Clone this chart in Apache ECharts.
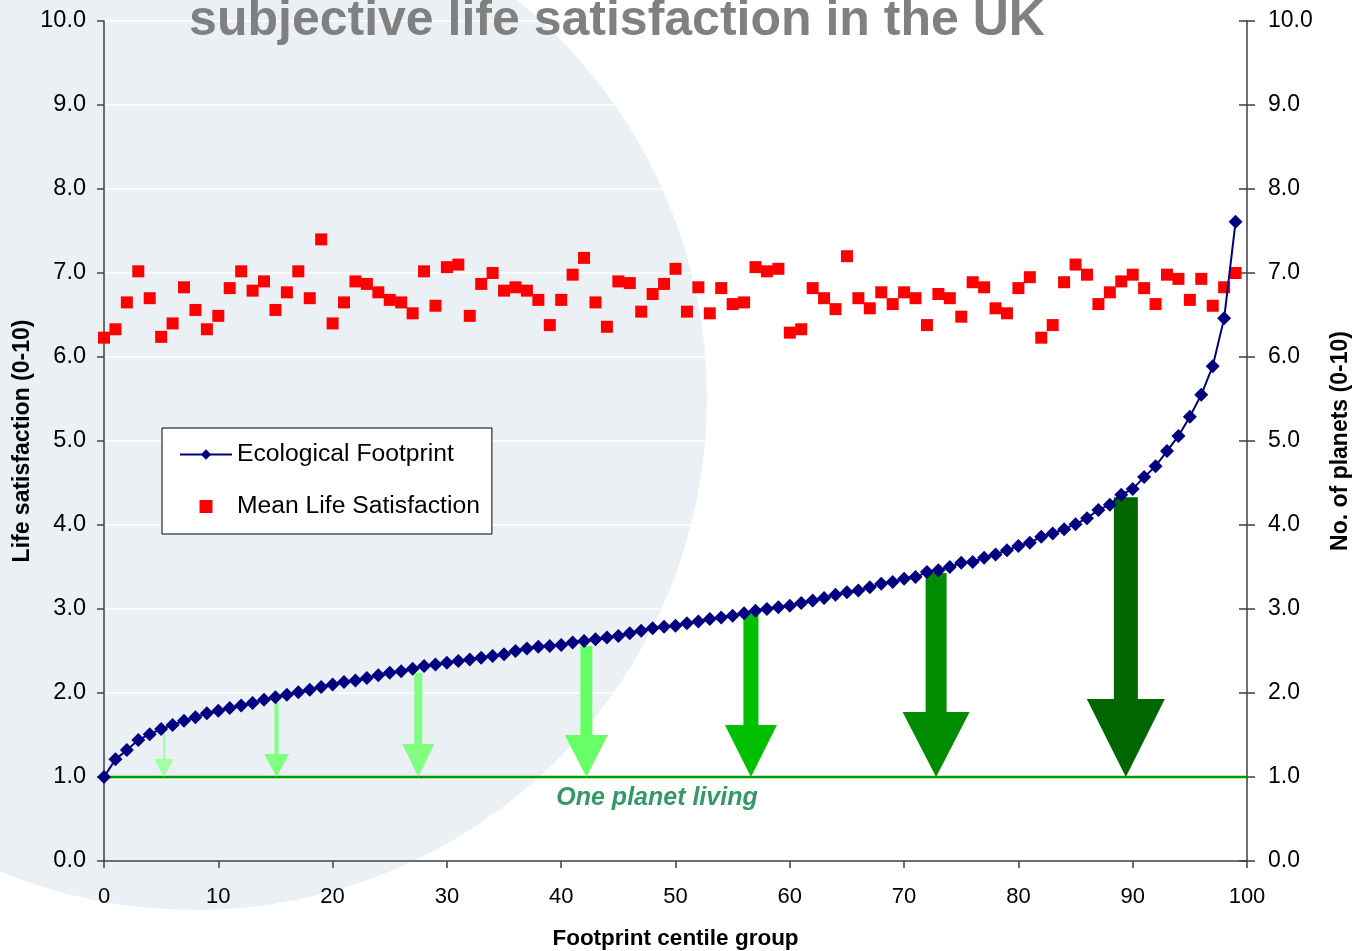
<!DOCTYPE html>
<html>
<head>
<meta charset="utf-8">
<title>Ecological footprint and subjective life satisfaction in the UK</title>
<script src="https://cdn.jsdelivr.net/npm/echarts@6/dist/echarts.min.js"></script>
<style>
    html, body { margin: 0; padding: 0; background: #ffffff; }
    #footprint_chart { width: 1356px; height: 951px; }
</style>
</head>
<body>
<div id="footprint_chart"></div>
<script>

// Chart data
// ------------------------------

var centiles = [
    0, 1, 2, 3, 4, 5, 6, 7, 8, 9, 10, 11, 12, 13, 14, 15, 16, 17, 18, 19,
    20, 21, 22, 23, 24, 25, 26, 27, 28, 29, 30, 31, 32, 33, 34, 35, 36, 37, 38, 39,
    40, 41, 42, 43, 44, 45, 46, 47, 48, 49, 50, 51, 52, 53, 54, 55, 56, 57, 58, 59,
    60, 61, 62, 63, 64, 65, 66, 67, 68, 69, 70, 71, 72, 73, 74, 75, 76, 77, 78, 79,
    80, 81, 82, 83, 84, 85, 86, 87, 88, 89, 90, 91, 92, 93, 94, 95, 96, 97, 98, 99
];

// No. of planets (right axis)
var footprintPlanets = [
    1.00, 1.21, 1.32, 1.44, 1.51, 1.57, 1.62, 1.67, 1.71, 1.76,
    1.79, 1.82, 1.85, 1.88, 1.92, 1.95, 1.98, 2.01, 2.04, 2.07,
    2.10, 2.13, 2.15, 2.18, 2.21, 2.24, 2.26, 2.29, 2.32, 2.34,
    2.36, 2.38, 2.40, 2.42, 2.44, 2.46, 2.50, 2.53, 2.55, 2.56,
    2.57, 2.60, 2.62, 2.64, 2.66, 2.68, 2.71, 2.74, 2.77, 2.79,
    2.80, 2.83, 2.85, 2.88, 2.90, 2.92, 2.95, 2.98, 3.00, 3.02,
    3.04, 3.07, 3.10, 3.13, 3.17, 3.20, 3.22, 3.26, 3.30, 3.32,
    3.36, 3.38, 3.44, 3.46, 3.50, 3.55, 3.56, 3.61, 3.65, 3.70,
    3.75, 3.79, 3.86, 3.90, 3.95, 4.01, 4.08, 4.18, 4.24, 4.36,
    4.43, 4.57, 4.70, 4.88, 5.06, 5.29, 5.55, 5.89, 6.46, 7.61
];

// Life satisfaction 0-10 (left axis)
var lifeSatisfaction = [
    6.23, 6.33, 6.65, 7.02, 6.70, 6.24, 6.40, 6.83, 6.56, 6.33,
    6.49, 6.82, 7.02, 6.79, 6.90, 6.56, 6.77, 7.02, 6.70, 7.40,
    6.40, 6.65, 6.90, 6.87, 6.77, 6.68, 6.65, 6.52, 7.02, 6.61,
    7.07, 7.10, 6.49, 6.87, 7.00, 6.79, 6.83, 6.79, 6.68, 6.38,
    6.68, 6.98, 7.18, 6.65, 6.36, 6.90, 6.88, 6.54, 6.75, 6.87,
    7.05, 6.54, 6.83, 6.52, 6.82, 6.63, 6.65, 7.07, 7.02, 7.05,
    6.29, 6.33, 6.82, 6.70, 6.57, 7.20, 6.70, 6.58, 6.77, 6.63,
    6.77, 6.70, 6.38, 6.75, 6.70, 6.48, 6.89, 6.83, 6.58, 6.52,
    6.82, 6.95, 6.23, 6.38, 6.89, 7.10, 6.98, 6.63, 6.77, 6.90,
    6.98, 6.82, 6.63, 6.98, 6.93, 6.68, 6.93, 6.61, 6.83, 7.00
];

// Arrows down to one planet living
var arrowCentiles = [5.25, 15.1, 27.5, 42.2, 56.6, 72.8, 89.4];
var arrowTops = [1.52, 1.88, 2.24, 2.56, 2.94, 3.43, 4.33];
var onePlanet = 1.0;

var xTicks = [0, 10, 20, 30, 40, 50, 60, 70, 80, 90, 100];
var yTicks = [0, 1, 2, 3, 4, 5, 6, 7, 8, 9, 10];


// Styles
// ------------------------------

var FONT = '"Liberation Sans", Arial, sans-serif';
// [shaft width, head width, head height] in px
var ARROW_SIZES = [[2, 20, 18], [4, 25, 23], [8, 32, 33], [12, 43, 42], [15, 52, 52], [21, 67, 65], [24, 78, 78]];
var ARROW_COLORS = ['#a3ffa3', '#80ff80', '#80ff80', '#66ff66', '#00c000', '#008c00', '#006600'];
var AXIS_COLOR = '#404040';


// Build series data
var footprintData = centiles.map(function(c, i) { return [c, footprintPlanets[i]]; });
var satisfactionData = centiles.map(function(c, i) { return [c, lifeSatisfaction[i]]; });
var arrowData = arrowCentiles.map(function(c, i) { return [c, arrowTops[i], onePlanet]; });
var onePlanetData = [[xTicks[0], onePlanet], [xTicks[xTicks.length - 1], onePlanet]];

var yLabel = function(v) { return v.toFixed(1); };

var nameStyle = {
    fontFamily: FONT,
    fontSize: 23,
    fontWeight: 'bold',
    color: '#000000'
};

var chartElement = document.getElementById('footprint_chart');
var chart = echarts.init(chartElement, null, { renderer: 'canvas' });

chart.setOption({

    animation: false,

    textStyle: {
        fontFamily: FONT
    },

    // Setup grid
    grid: {
        left: 104,
        right: 109,
        top: 21,
        bottom: 90,
        outerBoundsMode: 'none'
    },

    // Background shape and headline
    graphic: [
        {
            type: 'circle',
            z: -10,
            silent: true,
            shape: { cx: 195, cy: 398, r: 512 },
            style: { fill: '#ebf0f5' }
        },
        {
            type: 'text',
            z: 10,
            silent: true,
            x: 617,
            y: 21,
            style: {
                text: 'subjective life satisfaction in the UK',
                fill: '#808080',
                font: 'bold 50px ' + FONT,
                align: 'center',
                verticalAlign: 'middle'
            }
        },
        {
            type: 'text',
            z: 10,
            silent: true,
            x: 657,
            y: 798,
            style: {
                text: 'One planet living',
                fill: '#339966',
                font: 'italic bold 25px ' + FONT,
                align: 'center',
                verticalAlign: 'middle'
            }
        }
    ],

    // Add legend
    legend: {
        orient: 'vertical',
        left: 162,
        top: 428,
        padding: [14, 12, 15, 17],
        itemGap: 27,
        itemWidth: 52,
        itemHeight: 13,
        backgroundColor: '#ffffff',
        borderColor: '#000000',
        borderWidth: 1,
        borderRadius: 0,
        textStyle: {
            fontFamily: FONT,
            fontSize: 24.7,
            color: '#000000'
        },
        data: [
            { name: 'Ecological Footprint' },
            { name: 'Mean Life Satisfaction', icon: 'path://M0,0L10,0L10,10L0,10Z' }
        ]
    },

    // Horizontal axis
    xAxis: [{
        type: 'value',
        min: xTicks[0],
        max: xTicks[xTicks.length - 1],
        interval: 10,
        name: 'Footprint centile group',
        nameLocation: 'middle',
        nameGap: 66,
        nameMoveOverlap: false,
        nameTextStyle: {
            fontFamily: FONT,
            fontSize: 22.5,
            fontWeight: 'bold',
            color: '#000000'
        },
        axisLine: {
            show: true,
            onZero: false,
            lineStyle: { color: AXIS_COLOR, width: 1.5 }
        },
        axisTick: {
            show: true,
            length: 7,
            lineStyle: { color: AXIS_COLOR, width: 1.5 }
        },
        axisLabel: {
            margin: 25,
            fontSize: 22,
            color: '#000000'
        },
        splitLine: { show: false }
    }],

    // Vertical axes
    yAxis: [
        {
            type: 'value',
            position: 'left',
            min: yTicks[0],
            max: yTicks[yTicks.length - 1],
            interval: 1,
            name: 'Life satisfaction (0-10)',
            nameLocation: 'middle',
            nameRotate: 90,
            nameGap: 70,
            nameMoveOverlap: false,
            nameTextStyle: nameStyle,
            axisLine: {
                show: true,
                lineStyle: { color: AXIS_COLOR, width: 1.5 }
            },
            axisTick: {
                show: true,
                length: 7,
                lineStyle: { color: AXIS_COLOR, width: 1.5 }
            },
            axisLabel: {
                margin: 18,
                fontSize: 23.5,
                color: '#000000',
                formatter: yLabel
            },
            splitLine: {
                show: true,
                lineStyle: { color: '#ffffff', width: 1.5 }
            }
        },
        {
            type: 'value',
            position: 'right',
            min: yTicks[0],
            max: yTicks[yTicks.length - 1],
            interval: 1,
            name: 'No. of planets (0-10)',
            nameLocation: 'middle',
            nameRotate: 90,
            nameGap: 82,
            nameMoveOverlap: false,
            nameTextStyle: nameStyle,
            axisLine: {
                show: true,
                lineStyle: { color: AXIS_COLOR, width: 1.5 }
            },
            axisTick: {
                show: true,
                length: 8,
                lineStyle: { color: AXIS_COLOR, width: 1.5 }
            },
            axisLabel: {
                margin: 21,
                fontSize: 23,
                color: '#000000',
                formatter: yLabel
            },
            splitLine: { show: false }
        },
        {
            // inner half of the crossing ticks on the right
            type: 'value',
            position: 'right',
            min: yTicks[0],
            max: yTicks[yTicks.length - 1],
            interval: 1,
            axisLine: { show: false },
            axisTick: {
                show: true,
                inside: true,
                length: 8,
                lineStyle: { color: AXIS_COLOR, width: 1.5 }
            },
            axisLabel: { show: false },
            splitLine: { show: false }
        }
    ],

    // Add series
    series: [
        {
            name: 'One planet living',
            type: 'line',
            yAxisIndex: 1,
            z: 1,
            silent: true,
            symbol: 'none',
            lineStyle: { color: '#009900', width: 2.5 },
            data: onePlanetData
        },
        {
            name: 'Arrows',
            type: 'custom',
            yAxisIndex: 1,
            z: 2,
            silent: true,
            encode: { x: 0, y: [1, 2] },
            renderItem: function(params, api) {
                var top = api.coord([api.value(0), api.value(1)]);
                var bottom = api.coord([api.value(0), api.value(2)]);
                var size = ARROW_SIZES[params.dataIndex];
                var cx = top[0];
                var hs = size[0] / 2, hw = size[1] / 2;
                var neck = bottom[1] - size[2];
                return {
                    type: 'polygon',
                    shape: {
                        points: [
                            [cx - hs, top[1]], [cx + hs, top[1]], [cx + hs, neck],
                            [cx + hw, neck], [cx, bottom[1]], [cx - hw, neck], [cx - hs, neck]
                        ]
                    },
                    style: { fill: ARROW_COLORS[params.dataIndex] }
                };
            },
            data: arrowData
        },
        {
            name: 'Ecological Footprint',
            type: 'line',
            yAxisIndex: 1,
            z: 4,
            symbol: 'diamond',
            symbolSize: 14,
            showAllSymbol: true,
            itemStyle: { color: '#000080' },
            lineStyle: { color: '#000080', width: 2 },
            data: footprintData
        },
        {
            name: 'Mean Life Satisfaction',
            type: 'scatter',
            yAxisIndex: 0,
            z: 3,
            symbol: 'rect',
            symbolSize: 12,
            itemStyle: { color: '#ff0000', opacity: 1 },
            data: satisfactionData
        }
    ]
});

</script>
</body>
</html>
